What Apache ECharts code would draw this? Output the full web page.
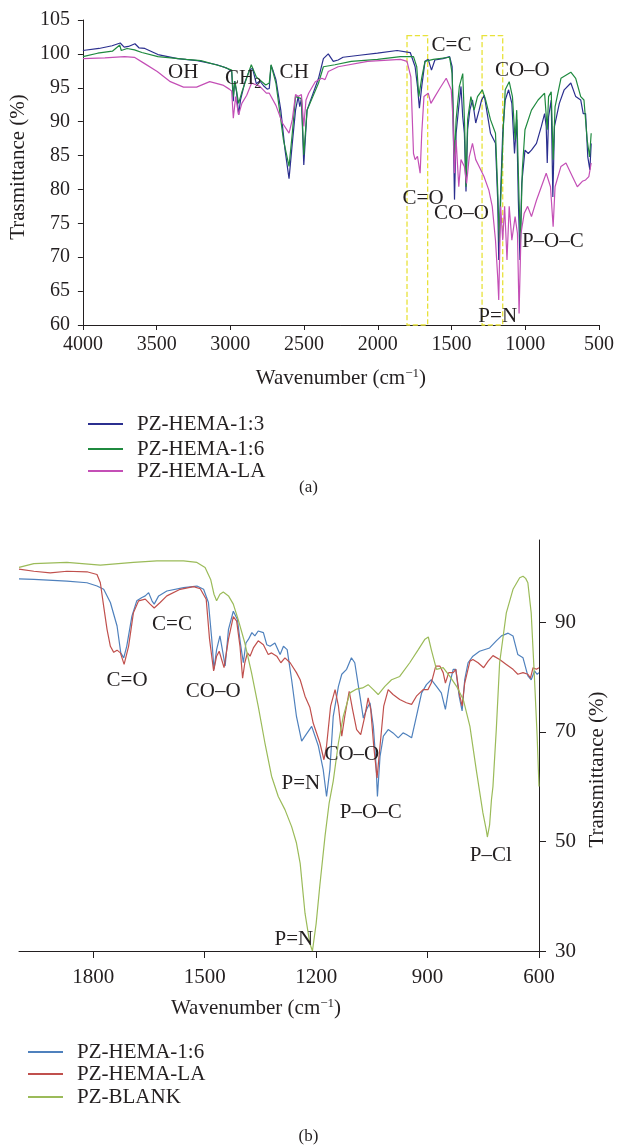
<!DOCTYPE html>
<html><head><meta charset="utf-8">
<script src="https://cdn.jsdelivr.net/npm/echarts@6/dist/echarts.min.js"></script>
<style>html,body{margin:0;padding:0;background:#fff}#c{width:617px;height:1148px}</style>
</head><body><div id="c"></div>
<script>
// ---------- Panel (a) data: [wavenumber, transmittance] ----------
const hema13 = [[4000,100.5],[3891,100.8],[3802,101.2],[3747,101.6],[3720,101.0],[3691,101.1],[3647,101.5],[3620,100.9],[3580,100.8],[3491,99.9],[3358,99.3],[3224,99.0],[3091,98.4],[3024,97.9],[2991,97.4],[2980,93.0],[2972,96.0],[2958,94.4],[2944,91.0],[2931,93.2],[2902,95.8],[2870,97.6],[2850,97.9],[2824,95.6],[2800,96.0],[2775,95.3],[2750,94.8],[2736,94.9],[2724,98.3],[2710,97.5],[2691,96.2],[2658,91.7],[2629,85.8],[2602,81.6],[2580,86.8],[2558,91.7],[2540,93.7],[2529,92.2],[2518,93.4],[2502,83.6],[2480,91.7],[2447,93.7],[2402,96.4],[2369,99.3],[2336,100.0],[2302,98.9],[2269,99.1],[2236,99.5],[2124,99.8],[2002,100.1],[1869,100.5],[1780,100.2],[1747,98.1],[1731,95.2],[1718,92.0],[1702,95.2],[1680,98.9],[1658,99.2],[1636,97.6],[1613,99.1],[1558,99.3],[1513,99.6],[1496,98.1],[1487,87.3],[1480,78.5],[1469,88.3],[1451,92.2],[1436,95.2],[1424,90.7],[1413,88.3],[1402,79.7],[1391,88.8],[1376,91.7],[1358,93.2],[1336,89.8],[1313,91.7],[1296,93.2],[1278,93.9],[1258,91.2],[1236,88.3],[1202,86.8],[1187,78.4],[1180,69.6],[1169,78.4],[1153,88.3],[1136,93.2],[1113,94.7],[1091,92.7],[1073,85.3],[1058,90.3],[1047,78.4],[1036,69.6],[1024,80.9],[1002,85.8],[980,85.3],[958,85.8],[924,86.8],[891,89.3],[869,91.2],[858,89.3],[851,83.9],[842,90.7],[824,93.2],[813,78.9],[802,89.3],[769,92.7],[736,94.7],[691,95.7],[658,93.7],[624,93.2],[607,91.2],[591,91.2],[576,84.8],[562,82.9],[553,86.8]];
const hema16a = [[4000,99.6],[3900,100.1],[3800,100.4],[3750,101.3],[3740,100.5],[3700,100.8],[3650,100.6],[3600,100.2],[3491,99.6],[3300,99.2],[3200,99.0],[3050,98.1],[2991,97.6],[2980,93.7],[2969,96.0],[2944,92.7],[2920,94.5],[2858,98.4],[2824,96.6],[2760,95.4],[2736,95.7],[2724,98.4],[2691,95.7],[2640,87.3],[2602,83.4],[2580,88.3],[2558,93.7],[2518,93.4],[2502,85.1],[2480,91.7],[2460,92.7],[2402,95.7],[2369,98.1],[2291,98.4],[2180,98.9],[2002,99.2],[1847,99.6],[1758,99.6],[1736,98.1],[1722,93.7],[1702,96.5],[1680,98.9],[1624,99.2],[1513,99.5],[1496,97.1],[1480,84.4],[1469,90.3],[1447,95.2],[1424,97.1],[1411,89.3],[1402,80.4],[1391,90.3],[1369,93.7],[1347,91.7],[1324,93.7],[1291,94.7],[1269,93.2],[1236,90.3],[1202,88.3],[1187,80.0],[1176,72.2],[1164,80.0],[1147,90.0],[1136,94.7],[1109,95.9],[1087,93.7],[1069,87.3],[1058,91.7],[1042,78.4],[1033,72.0],[1020,82.9],[1002,88.8],[958,91.7],[913,93.2],[869,94.2],[851,88.8],[842,93.7],[824,94.4],[811,84.4],[798,92.2],[758,96.4],[691,97.3],[658,96.4],[624,93.7],[602,93.2],[580,87.3],[564,84.8],[553,88.3]];
const hemaLAa = [[4000,99.3],[3851,99.4],[3718,99.6],[3651,99.5],[3584,98.6],[3496,97.4],[3407,95.9],[3318,95.1],[3229,95.1],[3140,95.9],[3051,95.4],[3007,94.8],[2991,94.5],[2980,90.5],[2964,93.7],[2944,91.0],[2922,92.7],[2889,93.9],[2856,95.7],[2800,95.2],[2756,94.2],[2736,94.2],[2691,92.4],[2647,89.8],[2602,88.3],[2580,90.3],[2558,94.0],[2540,93.7],[2518,94.0],[2502,89.3],[2487,93.2],[2469,94.2],[2424,95.9],[2380,96.4],[2358,96.2],[2336,97.4],[2269,98.1],[2069,98.9],[1847,99.2],[1802,98.9],[1776,96.6],[1758,85.3],[1747,84.4],[1731,84.9],[1713,82.4],[1702,88.3],[1687,93.7],[1658,94.2],[1640,92.7],[1613,93.7],[1580,94.9],[1536,96.4],[1502,94.7],[1491,90.7],[1480,82.4],[1469,87.3],[1451,80.4],[1436,84.4],[1413,83.4],[1398,80.9],[1380,84.8],[1358,86.8],[1336,84.4],[1313,83.4],[1280,81.9],[1247,79.9],[1224,77.5],[1202,72.5],[1187,67.1],[1180,63.7],[1167,77.5],[1153,72.5],[1140,77.5],[1124,69.6],[1109,77.5],[1091,72.5],[1069,76.0],[1053,73.5],[1042,61.7],[1029,73.5],[1007,76.5],[984,77.5],[958,76.0],[924,78.4],[891,80.4],[858,82.4],[829,80.4],[811,74.5],[798,80.4],[758,83.4],[724,83.9],[691,82.4],[647,80.4],[613,81.2],[591,81.4],[569,81.9],[553,83.9]];
const boxesA = [[1802,1662],[1293,1153]];
const boxTopA = 102.7;
const notesA = [[3320,97.2,'OH'],[2913,96.4,'CH{sub|2}'],[2567,97.3,'CH'],[1500,101.3,'C=C'],[1020,97.5,'CO–O'],[1693,78.6,'C=O'],[1433,76.4,'CO–O'],[813,72.3,'P–O–C'],[1187,61.3,'P=N']];

// ---------- Panel (b) data ----------
const hema16b = [[2000,97.9],[1960,97.8],[1871,97.5],[1817,97.2],[1790,96.6],[1772,96.0],[1754,93.6],[1736,89.3],[1726,84.4],[1718,83.5],[1710,85.6],[1696,91.1],[1683,93.9],[1669,94.5],[1660,94.8],[1651,95.4],[1642,93.9],[1636,93.3],[1624,94.8],[1602,95.7],[1557,96.3],[1521,96.6],[1503,96.0],[1490,93.6],[1481,86.9],[1475,81.4],[1468,85.0],[1459,87.5],[1451,84.4],[1445,82.0],[1436,88.7],[1423,92.0],[1412,90.5],[1404,86.2],[1396,82.6],[1389,86.2],[1382,86.9],[1373,88.1],[1365,87.5],[1356,88.4],[1342,88.1],[1333,85.9],[1324,85.6],[1311,86.2],[1297,84.1],[1288,85.6],[1278,85.0],[1266,79.5],[1253,72.8],[1239,68.3],[1230,69.2],[1212,71.0],[1194,67.4],[1181,63.1],[1172,58.2],[1163,63.1],[1154,72.8],[1140,78.3],[1131,80.5],[1118,81.4],[1105,83.5],[1096,82.6],[1082,76.5],[1073,72.5],[1064,74.1],[1055,75.3],[1046,71.0],[1039,64.3],[1035,58.2],[1028,65.5],[1019,69.2],[1006,70.4],[993,69.8],[979,68.9],[966,69.8],[957,69.5],[943,68.9],[930,72.8],[916,77.1],[903,78.6],[890,79.5],[876,78.3],[863,77.1],[852,74.1],[842,78.3],[831,81.4],[824,81.4],[815,76.5],[807,73.8],[800,79.5],[791,82.6],[778,83.8],[760,84.7],[733,85.3],[715,86.6],[701,87.5],[683,88.0],[670,87.5],[657,84.1],[643,83.5],[630,80.2],[621,79.5],[612,81.1],[605,80.5],[600,80.8]];
const hemaLAb = [[2000,99.7],[1960,99.3],[1916,99.0],[1871,99.3],[1817,99.2],[1790,98.7],[1781,97.2],[1772,92.9],[1763,88.7],[1754,85.6],[1745,84.5],[1736,84.9],[1727,84.4],[1717,82.3],[1705,85.6],[1692,91.7],[1678,93.9],[1660,94.2],[1647,93.3],[1636,92.6],[1620,93.6],[1602,94.8],[1566,96.0],[1530,96.5],[1512,96.1],[1496,94.2],[1487,86.9],[1476,81.1],[1468,83.8],[1461,84.7],[1448,81.7],[1436,86.9],[1423,91.0],[1414,90.2],[1405,85.6],[1398,79.8],[1392,82.6],[1385,84.4],[1378,83.8],[1369,85.3],[1356,86.6],[1342,85.9],[1329,84.1],[1320,84.4],[1306,83.8],[1295,82.6],[1284,83.5],[1270,82.6],[1253,80.8],[1243,79.5],[1230,76.5],[1217,74.5],[1208,71.6],[1190,68.0],[1179,64.9],[1172,67.4],[1161,74.7],[1149,77.7],[1140,74.7],[1131,69.2],[1123,72.8],[1111,77.4],[1102,74.1],[1091,70.4],[1080,69.5],[1069,72.8],[1060,76.2],[1053,74.1],[1045,67.4],[1036,61.6],[1028,67.4],[1018,74.7],[1006,77.7],[993,76.8],[975,75.9],[957,75.3],[943,75.0],[930,76.5],[912,77.7],[899,77.7],[890,78.9],[878,82.0],[867,82.0],[858,80.8],[852,78.9],[843,80.8],[831,80.8],[824,81.4],[815,77.1],[807,74.7],[800,78.9],[786,82.9],[778,83.2],[764,82.6],[749,81.7],[737,82.9],[724,83.9],[706,83.2],[688,82.3],[670,81.4],[657,80.5],[643,80.8],[630,80.5],[623,79.8],[616,81.7],[607,81.4],[600,81.7]];
const blankB = [[2000,100.0],[1960,100.7],[1871,100.9],[1781,100.4],[1692,100.9],[1629,101.2],[1557,101.2],[1521,100.9],[1499,100.0],[1484,97.8],[1475,95.1],[1468,93.9],[1459,95.1],[1450,95.5],[1436,94.8],[1423,93.3],[1410,90.5],[1392,86.2],[1374,80.8],[1356,74.7],[1338,68.0],[1320,61.9],[1302,58.2],[1284,55.8],[1266,52.7],[1253,49.7],[1243,46.0],[1230,36.9],[1217,31.4],[1210,30.0],[1200,35.0],[1190,42.0],[1176,51.0],[1165,57.0],[1154,61.0],[1140,68.0],[1127,72.8],[1109,77.1],[1091,77.8],[1075,78.0],[1060,78.6],[1046,77.7],[1033,76.8],[1015,78.3],[997,79.5],[975,80.1],[948,82.6],[925,85.0],[907,86.9],[898,87.3],[890,85.0],[876,81.4],[858,81.7],[840,80.1],[822,78.3],[804,75.9],[786,71.0],[769,63.1],[751,55.2],[742,52.1],[739,50.8],[733,53.0],[728,57.6],[724,60.0],[715,70.4],[706,82.6],[688,91.7],[670,96.0],[652,98.1],[643,98.4],[636,98.0],[630,97.2],[621,91.7],[612,79.5],[605,69.2],[600,60.0]];
const notesB = [[1709,79.4,'C=O'],[1588,89.6,'C=C'],[1477,77.3,'CO–O'],[1241,60.5,'P=N'],[1104,65.8,'CO–O'],[1053,55.2,'P–O–C'],[730,47.4,'P–Cl'],[1260,32.1,'P=N']];
const ticksBx = [600,900,1200,1500,1800];
const ticksBy = [30,50,70,90];

const FONT = "'Liberation Serif','Times New Roman',serif";
const INK = '#231f20';
const chart = echarts.init(document.getElementById('c'));

function line(name, data, color, xi) {
  return {name, type:'line', data, xAxisIndex:xi, yAxisIndex:xi, showSymbol:false, symbol:'none',
    lineStyle:{color, width:1.2}, itemStyle:{color}, animation:false, silent:true, z:3};
}
function notes(data, xi) {
  return {type:'scatter', data, xAxisIndex:xi, yAxisIndex:xi, symbolSize:1,
    itemStyle:{color:'rgba(0,0,0,0)', opacity:1},
    silent:true, animation:false, z:5,
    label:{show:true, position:'inside', formatter:p=>p.data[2], fontFamily:FONT, fontSize:21, color:INK,
      opacity:1, textBorderWidth:0,
      rich:{sub:{fontFamily:FONT, fontSize:14, color:INK, padding:[12,0,0,0], verticalAlign:'bottom'}}}};
}
function leg(name, left, top) {
  return {data:[name], left, top, icon:'rect', itemWidth:35, itemHeight:2, selectedMode:false,
    textStyle:{fontFamily:FONT, fontSize:21, color:INK, lineHeight:22, padding:[0,0,0,9]}};
}
const axisLine = {show:true, lineStyle:{color:INK, width:1}};
const plain = v => String(v);
const lbl = {fontFamily:FONT, fontSize:20, color:INK, formatter:plain};
const nameRich = {sup:{fontFamily:FONT, fontSize:13, color:INK, padding:[0,0,10,0], verticalAlign:'top'}};

const magenta = line('PZ-HEMA-LA', hemaLAa, '#c44fb6', 0);
magenta.markArea = {silent:true, label:{show:false},
  itemStyle:{color:'rgba(0,0,0,0)', borderColor:'#e8e23a', borderWidth:1.3, borderType:'dashed'},
  data: boxesA.map(b => [{xAxis:b[0], yAxis:boxTopA}, {xAxis:b[1], yAxis:60}])};

chart.setOption({
  backgroundColor:'#fff',
  animation:false,
  title:[
    {text:'(a)', left:'center', top:474, textStyle:{fontFamily:FONT, fontSize:17, fontWeight:'normal', color:INK}},
    {text:'(b)', left:'center', top:1123, textStyle:{fontFamily:FONT, fontSize:17, fontWeight:'normal', color:INK}}
  ],
  legend:[
    leg('PZ-HEMA-1:3', 83, 408),
    leg('PZ-HEMA-1:6', 83, 433),
    leg('PZ-HEMA-LA', 83, 455),
    leg('PZ-HEMA-1:6 ', 23, 1036),
    leg('PZ-HEMA-LA ', 23, 1058),
    leg('PZ-BLANK', 23, 1081)
  ],
  grid:[
    {left:77, top:20, width:525, height:305},
    {left:19, top:540, width:520, height:411}
  ],
  xAxis:[
    {gridIndex:0, type:'value', inverse:true, min:500, max:4000, interval:500,
     axisLine, splitLine:{show:false}, axisTick:{show:true, length:5, lineStyle:{color:INK}},
     axisLabel:{...lbl, margin:10},
     name:'Wavenumber (cm{sup|−1})', nameLocation:'middle', nameGap:42,
     nameTextStyle:{fontFamily:FONT, fontSize:21, color:INK, rich:nameRich}},
    {gridIndex:1, type:'value', inverse:true, min:600, max:2000, interval:300,
     axisLine, splitLine:{show:false},
     axisTick:{show:true, length:7, lineStyle:{color:INK}, customValues:ticksBx},
     axisLabel:{...lbl, fontSize:21, margin:16, customValues:ticksBx},
     name:'Wavenumber (cm{sup|−1})', nameLocation:'middle', nameGap:46,
     nameTextStyle:{fontFamily:FONT, fontSize:21, color:INK, rich:nameRich, padding:[0,46,0,0]}}
  ],
  yAxis:[
    {gridIndex:0, type:'value', min:60, max:105, interval:5,
     axisLine, splitLine:{show:false}, axisTick:{show:true, length:5, lineStyle:{color:INK}},
     axisLabel:{...lbl, margin:13},
     name:'Trasmittance (%)', nameLocation:'middle', nameGap:44,
     nameTextStyle:{fontFamily:FONT, fontSize:21, color:INK, padding:[0,0,0,11]}},
    {gridIndex:1, type:'value', position:'right', min:30, max:105, interval:20,
     axisLine, splitLine:{show:false},
     axisTick:{show:true, length:7, lineStyle:{color:INK}, customValues:ticksBy},
     axisLabel:{...lbl, fontSize:21, margin:16, customValues:ticksBy},
     name:'Transmittance (%)', nameLocation:'middle', nameGap:45,
     nameTextStyle:{fontFamily:FONT, fontSize:21, color:INK, padding:[0,48,0,0]}}
  ],
  series:[
    line('PZ-HEMA-1:3', hema13, '#2b2f8f', 0),
    line('PZ-HEMA-1:6', hema16a, '#1f8a3f', 0),
    magenta,
    notes(notesA, 0),
    line('PZ-HEMA-1:6 ', hema16b, '#4f81bd', 1),
    line('PZ-HEMA-LA ', hemaLAb, '#c0504d', 1),
    line('PZ-BLANK', blankB, '#9bbb59', 1),
    notes(notesB, 1)
  ]
});
</script></body></html>
